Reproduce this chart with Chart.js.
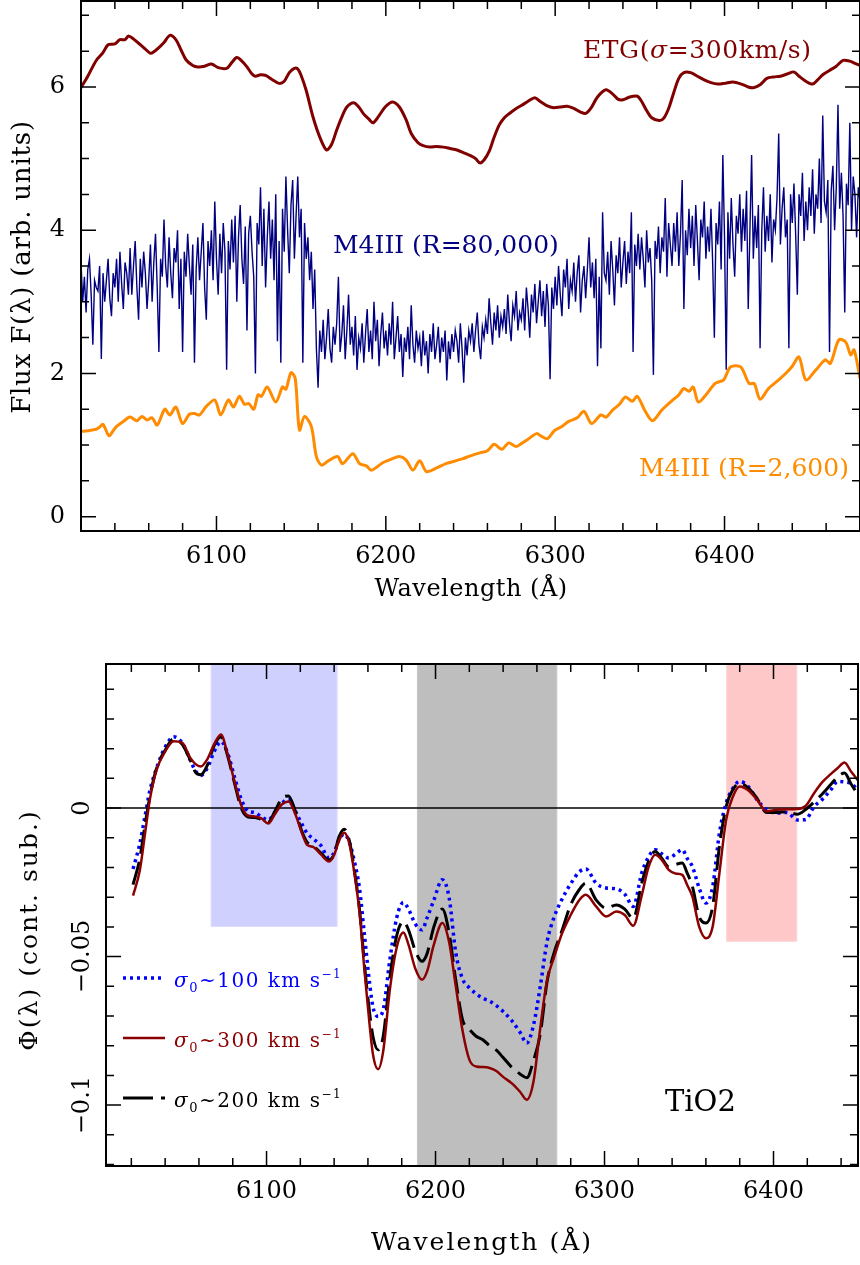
<!DOCTYPE html>
<html>
<head>
<meta charset="utf-8">
<script src="https://cdn.jsdelivr.net/npm/chart.js@4.4.1/dist/chart.umd.min.js"></script>
<style>
  html, body { margin: 0; padding: 0; background: #fff; }
  #wrap { position: relative; width: 860px; height: 1265px; }
  canvas { position: absolute; left: 0; }
  #top { top: 0; }
  #bottom { top: 640px; }
</style>
</head>
<body>
<div id="wrap">
  <canvas id="top" width="860" height="640"></canvas>
  <canvas id="bottom" width="860" height="625"></canvas>
</div>
<script>
// ---------- top panel: spectra ----------
const etgWave = [6020, 6024, 6029, 6033, 6036, 6040, 6043, 6046, 6048, 6051, 6054, 6057, 6061, 6063, 6066, 6069, 6072.5, 6076, 6079, 6082,
  6086, 6089, 6093, 6097, 6101, 6106, 6109, 6112, 6115, 6118, 6121, 6123, 6126, 6129, 6133, 6137, 6140, 6143, 6146, 6148,
  6150, 6153, 6157, 6161, 6165, 6168, 6171, 6174, 6177, 6181, 6184, 6187, 6190, 6192.5, 6196, 6200, 6204, 6208, 6212, 6215,
  6219, 6222, 6226, 6230, 6234, 6238, 6242, 6246, 6250, 6253, 6255.5, 6258, 6261, 6264, 6267, 6270, 6273, 6277, 6280, 6284,
  6288, 6291, 6295, 6299, 6303, 6307, 6311, 6315, 6318, 6321, 6325, 6330, 6334, 6337, 6340, 6344, 6348.5, 6351, 6354, 6357,
  6361.5, 6364, 6367, 6370, 6373, 6376, 6380, 6384, 6388, 6392, 6396, 6400, 6405, 6410, 6414, 6417, 6421, 6425, 6429, 6433,
  6437, 6441, 6444, 6448, 6452, 6455, 6458, 6462, 6466, 6470, 6474, 6477, 6480];
const etgFlux = [5.99, 6.15, 6.37, 6.48, 6.59, 6.6, 6.66, 6.66, 6.71, 6.67, 6.61, 6.55, 6.47, 6.49, 6.55, 6.62, 6.72, 6.66, 6.52, 6.38,
  6.30, 6.28, 6.29, 6.32, 6.27, 6.26, 6.34, 6.41, 6.36, 6.28, 6.18, 6.15, 6.17, 6.16, 6.1, 6.05, 6.08, 6.2, 6.26, 6.25,
  6.16, 5.95, 5.58, 5.3, 5.12, 5.2, 5.40, 5.58, 5.72, 5.78, 5.72, 5.62, 5.55, 5.50, 5.6, 5.73, 5.79, 5.72, 5.54, 5.35,
  5.22, 5.18, 5.16, 5.17, 5.16, 5.14, 5.12, 5.08, 5.04, 5.0, 4.94, 4.98, 5.1, 5.3, 5.47, 5.57, 5.63, 5.7, 5.74, 5.8,
  5.85, 5.8, 5.74, 5.71, 5.72, 5.73, 5.7, 5.65, 5.63, 5.7, 5.86, 5.96, 5.9, 5.83, 5.82, 5.86, 5.87, 5.8, 5.67, 5.57,
  5.53, 5.56, 5.7, 5.92, 6.12, 6.2, 6.2, 6.15, 6.1, 6.06, 6.04, 6.05, 6.07, 6.04, 6.0, 5.99, 6.03, 6.12, 6.14, 6.15,
  6.18, 6.21, 6.15, 6.08, 6.04, 6.1, 6.17, 6.23, 6.29, 6.37, 6.36, 6.33, 6.30];

const m4LowWave = [6020, 6024, 6029, 6031, 6033, 6036.5, 6039, 6041, 6045, 6049, 6053, 6056, 6059, 6062, 6065, 6069.5, 6072.5, 6076, 6080, 6084,
  6087, 6090, 6094, 6099, 6102.5, 6107, 6110, 6113.5, 6116.5, 6119, 6122, 6124.5, 6126.5, 6130, 6135, 6139, 6141, 6144, 6146.5, 6149,
  6152, 6156, 6159, 6162, 6166, 6171.5, 6174.5, 6180.5, 6184.5, 6188.5, 6191.5, 6198, 6203, 6208, 6212, 6216, 6220, 6224, 6230, 6235.5,
  6240, 6245.5, 6250, 6255.5, 6260, 6264, 6268.5, 6272.5, 6277, 6280, 6284, 6289, 6292, 6295.5, 6299.5, 6304, 6308, 6313, 6317, 6321.5,
  6327, 6330, 6334, 6338, 6341.5, 6345.5, 6348.5, 6353, 6357.5, 6363, 6370, 6373, 6376, 6379, 6381.5, 6384.5, 6389, 6394.5, 6399.5, 6403.5,
  6409.5, 6414.5, 6417.5, 6421, 6426, 6432, 6437, 6440, 6444, 6448, 6454, 6459.5, 6462.5, 6467.5, 6471.5, 6474.5, 6476.5, 6480];
const m4LowFlux = [1.19, 1.2, 1.22, 1.25, 1.29, 1.13, 1.2, 1.26, 1.33, 1.39, 1.34, 1.40, 1.35, 1.38, 1.28, 1.50, 1.42, 1.53, 1.30, 1.43,
  1.44, 1.42, 1.54, 1.63, 1.42, 1.63, 1.53, 1.68, 1.57, 1.58, 1.50, 1.70, 1.68, 1.81, 1.60, 1.81, 1.78, 2.01, 1.93, 1.21,
  1.40, 1.26, 0.84, 0.72, 0.78, 0.84, 0.74, 0.88, 0.74, 0.71, 0.65, 0.75, 0.8, 0.84, 0.79, 0.65, 0.78, 0.63, 0.68, 0.74,
  0.77, 0.81, 0.85, 0.89, 0.92, 1.01, 0.94, 1.03, 0.98, 1.02, 1.08, 1.16, 1.12, 1.09, 1.20, 1.26, 1.33, 1.38, 1.47, 1.30,
  1.42, 1.39, 1.49, 1.57, 1.67, 1.61, 1.68, 1.48, 1.34, 1.49, 1.64, 1.70, 1.79, 1.75, 1.81, 1.60, 1.70, 1.86, 1.91, 2.09,
  2.09, 1.86, 1.86, 1.64, 1.79, 1.91, 2.02, 2.1, 2.23, 1.91, 2.05, 2.19, 2.14, 2.47, 2.44, 2.26, 2.33, 1.93];

// R=80,000 spectrum, one value per Angstrom from m4HighStart
const m4HighStart = 6020;
const m4HighFlux = [
  3.55, 3.0, 3.35, 2.85, 3.45, 3.6, 3.1, 2.4, 3.3, 3.2,
  3.15, 3.5, 2.2, 3.4, 3.0, 3.3, 3.6, 3.05, 2.8, 3.4,
  3.2, 3.6, 3.0, 3.7, 3.25, 2.9, 3.55, 3.4, 3.1, 3.75,
  3.1, 3.5, 3.85, 3.2, 2.75, 3.6, 3.2, 3.7, 3.4, 2.9,
  3.3, 3.8, 3.0, 3.55, 3.95, 3.2, 2.3, 3.6, 3.35, 4.15,
  3.5, 3.2, 3.9, 3.4, 3.05, 3.75, 3.55, 4.0, 2.9, 3.6,
  2.3, 3.7, 3.35, 3.95, 3.5, 3.1, 3.8, 2.15, 3.45, 3.9,
  3.3, 3.7, 4.1, 3.2, 2.75, 3.85, 3.5, 4.0, 3.3, 4.4,
  3.6, 3.1, 3.95, 3.4, 4.1, 3.7, 2.05, 3.85, 3.45, 4.15,
  3.55, 4.2, 3.0, 3.9, 4.35, 3.6, 3.25, 4.05, 2.6, 3.95,
  4.2, 3.7, 3.35, 2.0, 4.1, 3.8, 4.6, 3.5, 4.3, 3.2,
  3.9, 4.4, 3.6, 4.15, 3.3, 4.5, 2.45, 3.85, 2.15, 4.3,
  3.7, 4.75, 4.0, 3.4, 4.35, 4.7, 3.6, 4.2, 4.75, 3.9,
  4.3, 2.15, 4.1, 3.6, 3.9, 3.3, 3.7, 2.9, 3.45, 2.35,
  1.8, 2.6, 2.3, 2.75, 2.2, 2.5, 2.9, 2.35, 2.15, 2.65,
  2.4, 2.7, 3.35, 2.3, 2.55, 2.95, 2.2, 2.6, 3.1, 2.4,
  2.65, 2.25, 2.8, 2.05, 2.5, 2.35, 2.7, 2.15, 2.55, 2.9,
  2.3, 2.6, 2.2, 3.0, 2.45, 2.75, 2.1, 2.55, 2.85, 2.35,
  2.6, 2.25, 2.7, 2.4, 3.0, 2.2, 2.5, 2.8, 2.3, 2.55,
  1.95, 2.5, 2.3, 2.65, 2.2, 2.95, 2.4, 2.15, 2.6, 2.35,
  2.5, 2.1, 2.6, 2.25, 2.45, 2.0, 2.55, 2.3, 2.7, 2.2,
  2.4, 2.65, 2.15, 2.5, 2.3, 2.6, 1.9, 2.45, 2.2, 2.55,
  2.3, 2.6, 2.45, 2.15, 2.7, 2.35, 1.87, 2.5, 2.25, 2.6,
  2.45, 2.7, 2.3, 2.6, 2.85, 2.4, 2.2, 2.65, 2.5, 2.75,
  2.55, 3.05, 2.7, 2.4, 2.85, 2.6, 2.95, 2.5, 2.8, 2.65,
  2.9, 2.55, 3.1, 2.7, 2.45, 2.95, 2.8, 3.15, 2.6, 2.85,
  2.75, 3.05, 2.6, 3.2, 2.9, 2.5, 3.1, 2.85, 3.25, 2.7,
  3.0, 3.3, 2.8, 3.15, 2.65, 3.25, 2.95, 1.92, 3.2, 2.9,
  3.35, 2.95, 3.5, 3.1, 2.8, 3.45, 3.2, 3.6, 2.9, 3.3,
  3.15, 3.55, 3.0, 3.4, 3.65, 2.85, 3.3, 3.5, 3.05, 3.45,
  3.9, 3.2, 3.55, 3.05, 3.6, 2.1, 3.35, 2.35, 4.25, 3.4,
  3.3, 3.7, 3.1, 3.85, 3.45, 2.95, 3.65, 3.4, 3.9, 3.2,
  3.55, 3.85, 3.25, 3.7, 3.4, 4.25, 2.3, 3.8, 3.5, 3.95,
  3.45, 3.9, 3.6, 3.2, 4.0, 3.55, 3.75, 3.3, 1.98, 3.85,
  3.6, 4.05, 3.4, 3.9, 3.7, 4.45, 3.35, 4.1, 3.8, 3.5,
  4.1, 3.7, 4.25, 3.5, 3.95, 4.7, 2.9, 4.0, 3.65, 4.3,
  3.75, 4.2, 3.5, 4.35, 3.85, 3.3, 4.15, 3.9, 4.4, 3.6,
  4.05, 3.7, 4.3, 3.55, 2.5, 4.1, 3.8, 4.4, 3.45, 5.05,
  3.9, 2.05, 4.25, 3.6, 4.45, 3.8, 3.35, 4.2, 3.95, 4.5,
  3.7, 4.3, 3.85, 4.55, 2.9, 4.0, 5.05, 3.6, 4.2, 3.75,
  4.35, 2.35, 4.0, 4.6, 3.7, 4.2, 3.85, 4.5, 3.55, 4.15,
  4.0, 4.45, 5.35, 3.8, 4.3, 4.6, 3.9, 4.15, 2.35, 4.5,
  4.1, 4.65, 3.95, 3.1, 4.5, 4.2, 4.8, 3.85, 4.4, 4.0,
  4.6, 4.2, 4.85, 3.95, 4.5, 4.3, 5.0, 4.1, 5.6, 4.4,
  4.25, 4.7, 2.3, 4.55, 4.9, 4.0, 4.6, 5.75, 4.3, 4.8,
  4.2, 2.85, 4.65, 4.35, 5.5, 4.0, 4.75, 4.5, 3.9, 4.6,
  4.4];

const topXTicks = [6100, 6200, 6300, 6400];
const topYTicks = [0, 2, 4, 6];

// ---------- bottom panel: continuum-subtracted TiO2 ----------
const phiWave = [6021, 6025, 6028, 6031, 6035, 6040, 6045, 6050, 6055, 6058,
  6061, 6065, 6069, 6073, 6077, 6081, 6085, 6089, 6093, 6097,
  6101, 6105, 6109, 6113, 6117, 6121, 6124, 6128, 6132, 6137,
  6140, 6143, 6146, 6149, 6152, 6155, 6158, 6161, 6163, 6166,
  6169, 6173, 6177, 6181, 6184, 6188, 6192, 6195, 6199, 6204,
  6208, 6212, 6216, 6220, 6224, 6228, 6232, 6236, 6240, 6245,
  6250, 6254, 6258, 6262, 6266, 6270, 6275, 6280, 6285, 6289,
  6295, 6301, 6307, 6312, 6317, 6322, 6326, 6330, 6334, 6338,
  6342, 6346, 6349, 6352, 6356, 6360, 6364, 6368, 6372, 6376,
  6380, 6385, 6390, 6396, 6402, 6408, 6414, 6419, 6424, 6429,
  6434, 6438, 6442, 6446, 6450];
const phiSig300 = [-0.0295, -0.021, -0.009, 0.003, 0.013, 0.019, 0.0225, 0.022, 0.0168, 0.0148,
  0.014, 0.0165, 0.0215, 0.0248, 0.018, 0.009, 0.001, -0.0025, -0.0028, -0.0035,
  -0.0052, -0.002, 0.0012, 0.0022, -0.002, -0.0085, -0.0124, -0.0132, -0.0155, -0.018,
  -0.0158, -0.0108, -0.0083, -0.012, -0.022, -0.035, -0.055, -0.073, -0.083, -0.0879,
  -0.082, -0.061, -0.047, -0.0419, -0.046, -0.054, -0.0578, -0.055, -0.046, -0.0387,
  -0.045, -0.060, -0.075, -0.0847, -0.087, -0.0872, -0.0875, -0.0885, -0.0905, -0.0926,
  -0.0955, -0.0982, -0.092, -0.074, -0.058, -0.0505, -0.042, -0.036, -0.031, -0.0292,
  -0.0331, -0.0365, -0.0348, -0.036, -0.0396, -0.0295, -0.020, -0.0157, -0.0175, -0.0208,
  -0.022, -0.0225, -0.026, -0.0298, -0.0399, -0.0438, -0.0399, -0.0219, -0.0039, 0.0039,
  0.0073, 0.006, 0.003, -0.0011, -0.0006, -0.0004, -0.0003, 0.0007, 0.005, 0.0088,
  0.0115, 0.0135, 0.0153, 0.0122, 0.0093];
const phiSig200 = [-0.0258, -0.017, -0.006, 0.004, 0.0135, 0.0195, 0.0233, 0.0215, 0.016, 0.012,
  0.0112, 0.0145, 0.021, 0.024, 0.0175, 0.0085, 0.000, -0.003, -0.0032, -0.0038,
  -0.0048, -0.001, 0.0032, 0.0041, -0.001, -0.008, -0.0115, -0.013, -0.015, -0.0175,
  -0.0155, -0.0095, -0.0071, -0.011, -0.021, -0.034, -0.053, -0.069, -0.077, -0.0814,
  -0.077, -0.057, -0.043, -0.0382, -0.041, -0.048, -0.0516, -0.049, -0.040, -0.034,
  -0.042, -0.058, -0.0713, -0.0745, -0.0768, -0.078, -0.080, -0.0815, -0.084, -0.0872,
  -0.0895, -0.0908, -0.085, -0.076, -0.0585, -0.049, -0.041, -0.0325, -0.0275, -0.0253,
  -0.0309, -0.0337, -0.0326, -0.034, -0.0372, -0.0253, -0.018, -0.0146, -0.017, -0.0197,
  -0.019, -0.0185, -0.022, -0.0264, -0.0365, -0.0387, -0.0331, -0.0129, 0.0006, 0.0062,
  0.0084, 0.0068, 0.0035, -0.0015, -0.0015, -0.0012, -0.0021, -0.0005, 0.002, 0.0048,
  0.008, 0.0105, 0.0118, 0.008, 0.0045];
const phiSig100 = [-0.0205, -0.012, -0.003, 0.006, 0.0135, 0.0205, 0.024, 0.022, 0.016, 0.0125,
  0.011, 0.0135, 0.019, 0.0224, 0.0185, 0.0105, 0.003, -0.001, -0.0015, -0.003,
  -0.004, -0.0015, 0.0015, 0.003, -0.001, -0.0055, -0.0085, -0.0105, -0.0125, -0.0168,
  -0.015, -0.0105, -0.0088, -0.0115, -0.018, -0.027, -0.043, -0.059, -0.067, -0.0702,
  -0.068, -0.051, -0.037, -0.0318, -0.034, -0.039, -0.041, -0.037, -0.031, -0.0241,
  -0.030, -0.0488, -0.0575, -0.0605, -0.0625, -0.064, -0.065, -0.0665, -0.0685, -0.0715,
  -0.0755, -0.0791, -0.073, -0.060, -0.045, -0.037, -0.0305, -0.0255, -0.0215, -0.0205,
  -0.0253, -0.0269, -0.0272, -0.029, -0.0331, -0.0219, -0.0165, -0.014, -0.0155, -0.0168,
  -0.0155, -0.014, -0.017, -0.0197, -0.0269, -0.032, -0.0264, -0.0084, 0.0017, 0.0067,
  0.009, 0.0073, 0.003, -0.0005, -0.0017, -0.0015, -0.004, -0.0039, 0.0005, 0.003,
  0.0062, 0.009, 0.0088, 0.0082, 0.006];

const phiXTicks = [6100, 6200, 6300, 6400];
const phiYTicks = [0, -0.05, -0.1];
const sigmaNames = ['100', '300', '200'];

// index bands: blue continuum, grey feature, red continuum (null floor = full height)
const bandStart = [6067, 6189, 6372];
const bandEnd = [6142, 6272, 6414];
const bandFloor = [-0.04, null, -0.045];
const bandFill = ['#d0d0ff', '#bebebe', '#ffc8c8'];
const bandEdge = ['#e4e4ff', '#d6d6d6', '#ffe0e0'];

const serif = "'DejaVu Serif', serif";
const pts = (xs, ys) => xs.map((x, i) => ({ x: x, y: ys[i] }));

function drawRuns(ctx, x, y, parts) {
  ctx.textAlign = 'left';
  for (const p of parts) {
    ctx.font = p.font;
    ctx.fillText(p.text, x, y + (p.dy || 0));
    x += ctx.measureText(p.text).width;
  }
}

// inward ticks on all four sides plus the frame
function boxTicks(o) {
  return {
    id: 'boxTicks',
    beforeDatasetsDraw(chart) { if (o.under) o.under(chart); },
    afterDatasetsDraw(chart) {
      const { ctx, chartArea: a, scales: { x, y } } = chart;
      ctx.save();
      ctx.strokeStyle = '#000';
      ctx.lineWidth = 1.5;
      ctx.beginPath();
      for (let i = Math.ceil(x.min / o.xMinor - 1e-9); i * o.xMinor <= x.max + 1e-9; i++) {
        const v = i * o.xMinor;
        const px = x.getPixelForValue(v);
        const len = o.xMajor.some(m => Math.abs(m - v) < 1e-6) ? 15 : 8;
        ctx.moveTo(px, a.bottom); ctx.lineTo(px, a.bottom - len);
        ctx.moveTo(px, a.top); ctx.lineTo(px, a.top + len);
      }
      for (let i = Math.ceil(y.min / o.yMinor - 1e-9); i * o.yMinor <= y.max + 1e-9; i++) {
        const v = i * o.yMinor;
        const py = y.getPixelForValue(v);
        const len = o.yMajor.some(m => Math.abs(m - v) < 1e-6) ? 15 : 8;
        ctx.moveTo(a.left, py); ctx.lineTo(a.left + len, py);
        ctx.moveTo(a.right, py); ctx.lineTo(a.right - len, py);
      }
      ctx.stroke();
      ctx.lineWidth = 2;
      ctx.strokeRect(a.left, a.top, a.right - a.left, a.bottom - a.top);
      ctx.restore();
    },
    afterDraw(chart) { o.text(chart); }
  };
}

function axisX(min, max, ticks, height) {
  return {
    type: 'linear', min: min, max: max,
    grid: { display: false, drawTicks: false }, border: { display: false },
    afterBuildTicks: s => { s.ticks = ticks.map(v => ({ value: v })); },
    afterFit: s => { s.height = height; s.paddingLeft = 0; s.paddingRight = 0; },
    ticks: { padding: 11, autoSkip: false, maxRotation: 0, color: '#000',
      font: { family: serif, size: 24 }, callback: v => String(v) }
  };
}

// ---- top chart ----
new Chart(document.getElementById('top'), {
  type: 'line',
  data: {
    datasets: [
      { data: pts(etgWave, etgFlux), borderColor: '#800000', borderWidth: 3, tension: 0.3 },
      { data: pts(m4LowWave, m4LowFlux), borderColor: '#ff8c00', borderWidth: 3, tension: 0.3 },
      { data: m4HighFlux.map((v, i) => ({ x: m4HighStart + i, y: v })), borderColor: '#000080', borderWidth: 1.4, tension: 0 }
    ]
  },
  options: {
    responsive: false, animation: false, devicePixelRatio: 1,
    layout: { padding: { top: 1, right: 0, bottom: 0, left: 0 } },
    elements: { point: { radius: 0 } },
    plugins: { legend: { display: false }, tooltip: { enabled: false } },
    scales: {
      x: axisX(6020, 6480, topXTicks, 109),
      y: {
        type: 'linear', min: -0.2, max: 7.2,
        grid: { display: false, drawTicks: false }, border: { display: false },
        afterBuildTicks: s => { s.ticks = topYTicks.map(v => ({ value: v })); },
        afterFit: s => { s.width = 81; s.paddingTop = 0; s.paddingBottom = 0; },
        ticks: { padding: 16, color: '#000', font: { family: serif, size: 24 }, callback: v => String(v) }
      }
    }
  },
  plugins: [boxTicks({
    xMinor: 20, xMajor: topXTicks, yMinor: 0.5, yMajor: topYTicks,
    text(chart) {
      const ctx = chart.ctx;
      ctx.save();
      ctx.fillStyle = '#000';
      ctx.font = `24px ${serif}`;
      ctx.textAlign = 'center';
      ctx.textBaseline = 'middle';
      ctx.letterSpacing = '0.5px';
      ctx.fillText('Wavelength (Å)', 471, 590);
      ctx.save();
      ctx.translate(23, 267);
      ctx.rotate(-Math.PI / 2);
      ctx.font = `26px ${serif}`;
      ctx.letterSpacing = '0.8px';
      ctx.fillText('Flux F(λ) (arb. units)', 0, 0);
      ctx.restore();
      ctx.textBaseline = 'alphabetic';
      ctx.letterSpacing = '0.6px';
      ctx.fillStyle = '#800000';
      drawRuns(ctx, 583, 58, [
        { text: 'ETG(', font: `25px ${serif}` },
        { text: 'σ', font: `italic 25px ${serif}` },
        { text: '=300km/s)', font: `25px ${serif}` }
      ]);
      ctx.letterSpacing = '0px';
      ctx.fillStyle = '#000080';
      drawRuns(ctx, 333, 253, [{ text: 'M4III (R=80,000)', font: `25px ${serif}` }]);
      ctx.fillStyle = '#ff8c00';
      drawRuns(ctx, 639, 476, [{ text: 'M4III (R=2,600)', font: `25px ${serif}` }]);
      ctx.restore();
    }
  })]
});

// ---- bottom chart ----
const lineStyles = [
  { color: '#0000ff', dash: [3, 4], width: 3.5 },
  { color: '#8b0000', dash: [], width: 2.5 },
  { color: '#000000', dash: [30, 8], width: 3 }
];

new Chart(document.getElementById('bottom'), {
  type: 'line',
  data: {
    datasets: [
      { data: pts(phiWave, phiSig300), borderColor: lineStyles[1].color, borderWidth: lineStyles[1].width },
      { data: pts(phiWave, phiSig200), borderColor: lineStyles[2].color, borderWidth: lineStyles[2].width, borderDash: [24, 8] },
      { data: pts(phiWave, phiSig100), borderColor: lineStyles[0].color, borderWidth: lineStyles[0].width, borderDash: [3, 4] }
    ]
  },
  options: {
    responsive: false, animation: false, devicePixelRatio: 1,
    layout: { padding: { top: 24, right: 2, bottom: 0, left: 0 } },
    elements: { point: { radius: 0 }, line: { cubicInterpolationMode: 'monotone' } },
    plugins: { legend: { display: false }, tooltip: { enabled: false } },
    scales: {
      x: axisX(6005, 6450, phiXTicks, 99),
      y: {
        type: 'linear', min: -0.1205, max: 0.0485,
        grid: { display: false, drawTicks: false }, border: { display: false },
        afterBuildTicks: s => { s.ticks = phiYTicks.map(v => ({ value: v })); },
        afterFit: s => { s.width = 106; s.paddingTop = 0; s.paddingBottom = 0; },
        ticks: { display: false }
      }
    }
  },
  plugins: [boxTicks({
    xMinor: 20, xMajor: phiXTicks, yMinor: 0.01, yMajor: phiYTicks,
    under(chart) {
      const { ctx, chartArea: a, scales: { x, y } } = chart;
      ctx.save();
      bandStart.forEach((s, i) => {
        const x0 = x.getPixelForValue(s);
        const x1 = x.getPixelForValue(bandEnd[i]);
        const y1 = bandFloor[i] === null ? a.bottom : y.getPixelForValue(bandFloor[i]);
        ctx.fillStyle = bandFill[i];
        ctx.fillRect(x0, a.top, x1 - x0, y1 - a.top);
        ctx.setLineDash([1, 1]);
        ctx.strokeStyle = bandEdge[i];
        ctx.lineWidth = 1;
        ctx.strokeRect(x0 + 0.5, a.top, x1 - x0 - 1, y1 - a.top - 0.5);
      });
      ctx.setLineDash([]);
      ctx.strokeStyle = '#000';
      ctx.lineWidth = 1.5;
      const y0 = y.getPixelForValue(0);
      ctx.beginPath();
      ctx.moveTo(a.left, y0);
      ctx.lineTo(a.right, y0);
      ctx.stroke();
      ctx.restore();
    },
    text(chart) {
      const ctx = chart.ctx;
      const y = chart.scales.y;
      ctx.save();
      ctx.fillStyle = '#000';
      ctx.font = `24px ${serif}`;
      ctx.textAlign = 'center';
      ctx.textBaseline = 'middle';
      phiYTicks.forEach(v => {
        ctx.save();
        ctx.translate(83, y.getPixelForValue(v));
        ctx.rotate(-Math.PI / 2);
        ctx.fillText(v === 0 ? '0' : '\u2212' + Math.abs(v), 0, 0);
        ctx.restore();
      });
      ctx.font = `25px ${serif}`;
      ctx.letterSpacing = '2px';
      ctx.fillText('Wavelength (Å)', 482, 603);
      ctx.save();
      ctx.translate(30, 290);
      ctx.rotate(-Math.PI / 2);
      ctx.fillText('Φ(λ) (cont. sub.)', 0, 0);
      ctx.restore();

      // legend
      const rowY = [338, 398, 458];
      ctx.textBaseline = 'alphabetic';
      ctx.letterSpacing = '1.5px';
      sigmaNames.forEach((name, i) => {
        const st = lineStyles[i];
        ctx.strokeStyle = st.color;
        ctx.lineWidth = st.width;
        ctx.setLineDash(st.dash);
        ctx.beginPath();
        ctx.moveTo(123, rowY[i]);
        ctx.lineTo(165, rowY[i]);
        ctx.stroke();
        ctx.fillStyle = st.color;
        drawRuns(ctx, 174, rowY[i] + 9, [
          { text: 'σ', font: `italic 20px ${serif}` },
          { text: '0', font: `13px ${serif}`, dy: 5 },
          { text: '~' + name + ' km s', font: `20px ${serif}` },
          { text: '\u22121', font: `12px ${serif}`, dy: -9 }
        ]);
      });
      ctx.setLineDash([]);
      ctx.letterSpacing = '0px';
      ctx.fillStyle = '#000';
      drawRuns(ctx, 665, 471, [{ text: 'TiO2', font: `29px ${serif}` }]);
      ctx.restore();
    }
  })]
});
</script>
</body>
</html>
